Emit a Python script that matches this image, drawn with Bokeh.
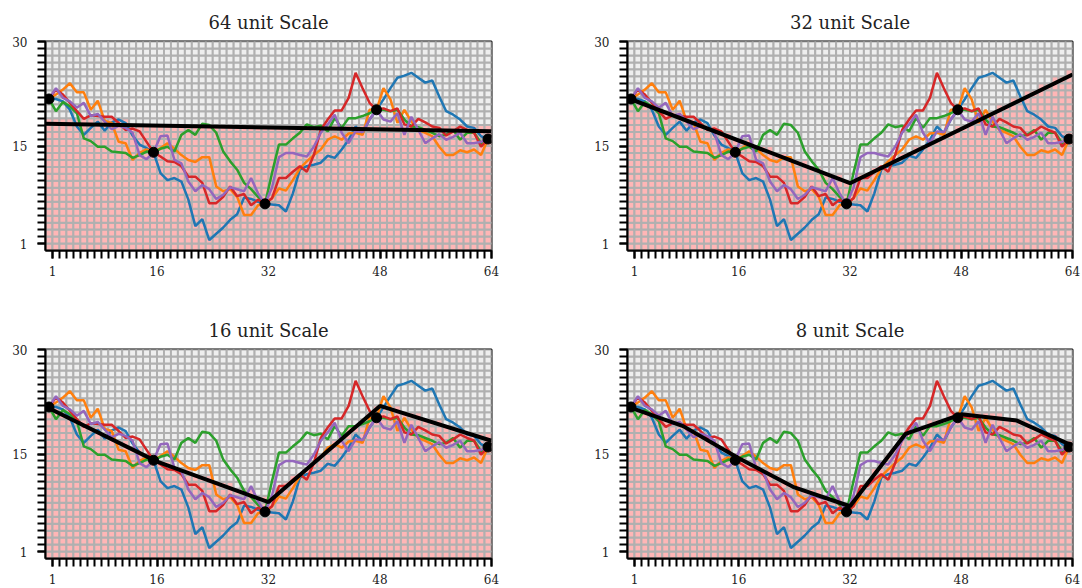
import numpy as np
from bokeh.plotting import figure
from bokeh.layouts import column, row
from bokeh.models import FixedTicker, Range1d
from bokeh.embed import file_html
from bokeh.resources import INLINE

# ---- data -------------------------------------------------------------
steps = list(range(1, 65))

blue = [21.75, 21.75, 21.4, 20.2, 17.8, 16.6, 17.6, 18.5, 17.2, 18.4,
        18.8, 18.3, 16.5, 15.2, 14.7, 14.1, 11.1, 10.1, 10.4, 9.9,
        7.3, 3.5, 4.5, 1.5, 2.4, 3.3, 4.4, 5.2, 7.6, 7.4,
        7.0, 6.7, 6.6, 6.5, 5.6, 8.2, 11.6, 12.1, 12.3, 12.6,
        13.6, 13.3, 14.5, 15.9, 17.8, 16.8, 18.8, 20.2, 21.7, 23.3,
        24.8, 25.1, 25.5, 24.8, 24.1, 24.4, 22.1, 20.0, 19.5, 18.8,
        17.8, 17.6, 16.4, 16.0]
orange = [21.75, 22.4, 23.1, 24.0, 22.7, 22.7, 20.2, 21.5, 18.6, 18.3,
          15.6, 15.4, 13.0, 14.0, 14.5, 14.1, 14.7, 15.4, 14.6, 13.7,
          13.0, 12.7, 13.4, 13.4, 9.2, 8.5, 8.8, 7.7, 5.1, 5.1,
          6.5, 6.7, 7.5, 8.9, 8.6, 10.1, 11.8, 12.8, 13.7, 14.5,
          15.9, 16.4, 15.9, 16.8, 16.9, 16.6, 20.2, 20.2, 23.3, 21.7,
          18.3, 20.2, 18.5, 17.3, 16.9, 16.4, 14.9, 13.7, 13.7, 14.4,
          14.1, 14.5, 13.7, 16.0]
green = [21.75, 20.0, 21.3, 20.7, 19.7, 16.1, 15.7, 14.9, 14.9, 14.2,
         14.1, 14.0, 13.3, 13.7, 14.2, 14.1, 14.6, 14.9, 14.2, 16.6,
         17.3, 16.6, 18.2, 18.0, 16.9, 14.2, 12.8, 11.6, 9.7, 8.8,
         7.7, 6.7, 11.1, 15.2, 15.2, 16.1, 16.9, 18.1, 17.7, 17.9,
         17.1, 19.0, 17.6, 19.0, 19.0, 19.3, 19.7, 20.2, 20.2, 20.0,
         20.2, 18.8, 17.8, 17.7, 17.3, 16.9, 16.4, 16.6, 17.3, 15.9,
         16.9, 16.9, 15.4, 16.0]
red = [21.75, 23.1, 22.4, 21.2, 20.0, 18.9, 19.4, 19.3, 19.2, 19.2,
       18.3, 17.3, 17.5, 17.1, 15.6, 14.1, 13.5, 12.8, 12.7, 12.1,
       10.6, 10.6, 9.7, 6.8, 6.8, 7.7, 9.2, 7.8, 8.1, 6.5,
       7.3, 6.7, 7.5, 10.4, 10.4, 11.3, 12.1, 11.3, 13.7, 17.3,
       18.8, 20.1, 20.1, 21.9, 25.5, 23.3, 21.2, 20.2, 20.4, 20.0,
       20.4, 18.1, 17.8, 18.9, 18.4, 17.8, 17.6, 16.5, 17.1, 17.8,
       17.3, 16.9, 14.9, 16.0]
purple = [21.75, 23.3, 21.9, 21.4, 20.5, 21.2, 19.3, 19.6, 18.5, 17.4,
          17.9, 17.6, 16.9, 13.7, 13.1, 14.1, 16.4, 16.5, 13.0, 12.5,
          9.9, 8.5, 9.4, 8.8, 7.4, 8.0, 9.1, 8.8, 8.5, 10.4,
          8.2, 6.7, 9.0, 13.4, 14.0, 14.0, 13.7, 13.5, 14.9, 16.9,
          18.1, 19.5, 16.9, 15.4, 17.1, 17.0, 18.8, 20.2, 18.8, 18.5,
          19.7, 16.6, 19.2, 17.3, 15.4, 16.1, 16.7, 15.9, 16.3, 16.9,
          15.4, 15.4, 15.6, 16.0]

series = [blue, orange, green, red, purple]
series_colors = ["#1f77b4", "#ff7f0e", "#2ca02c", "#d62728", "#9467bd"]

anchor_steps = [1, 16, 32, 48, 64]
anchor_values = [21.75, 14.1, 6.7, 20.2, 16.0]

# piecewise-linear trend per scale, one value per segment boundary
trend_values = {
    64: [18.2, 17.1],
    32: [21.9, 9.66, 25.25],
    16: [21.8, 13.9, 8.1, 21.9, 16.9],
    8: [21.8, 19.0, 14.4, 10.2, 7.5, 17.9, 20.7, 19.8, 16.2],
}

x_labeled_ticks = [1, 16, 32, 48, 64]
y_labeled_ticks = [1, 15, 30]
n_steps = 64
n_levels = 30

# ---- styling ----------------------------------------------------------
FONT = "DejaVu Serif"
CELL_ABOVE = "#eeeeee"
CELL_BELOW = "#ffb6b6"
CELL_EDGE = "#b0b0b0"


def make_panel(scale, width, height, border_right, border_bottom):
    p = figure(width=width, height=height, output_backend="svg",
               toolbar_location=None, title=f"{scale} unit Scale",
               x_range=Range1d(0, n_steps), y_range=Range1d(0, n_levels),
               min_border_left=45, min_border_right=border_right,
               min_border_top=41, min_border_bottom=border_bottom)
    p.background_fill_color = "white"
    p.border_fill_color = "white"
    p.outline_line_color = "black"
    p.outline_line_width = 2
    p.grid.visible = False

    p.title.text_font = FONT
    p.title.text_font_size = "18px"
    p.title.text_font_style = "normal"
    p.title.align = "center"
    p.title.text_color = "#222222"
    p.title.standoff = 18

    knots_x = np.linspace(0, n_steps, len(trend_values[scale]))
    knots_y = np.array(trend_values[scale])

    # unit cells, shaded below the trend line
    lefts, bottoms, fills = [], [], []
    for i in range(n_steps):
        level = np.interp(i + 0.5, knots_x, knots_y)
        for j in range(n_levels):
            lefts.append(i)
            bottoms.append(j)
            fills.append(CELL_BELOW if j < level else CELL_ABOVE)
    lefts = np.array(lefts)
    bottoms = np.array(bottoms)
    p.quad(left=lefts, right=lefts + 1, bottom=bottoms, top=bottoms + 1,
           fill_color=fills, line_color=CELL_EDGE, line_width=2)

    xs = np.array(steps) - 0.5
    for vals, col in zip(series, series_colors):
        p.line(xs, vals, line_color=col, line_width=2.5)

    p.line(knots_x, knots_y, line_color="black", line_width=4)
    p.scatter(np.array(anchor_steps) - 0.5, anchor_values, size=10,
              fill_color="black", line_color="black")

    for ax in (p.xaxis, p.yaxis):
        ax.axis_line_color = "black"
        ax.axis_line_width = 2
        ax.major_tick_line_color = "black"
        ax.major_tick_line_width = 2
        ax.minor_tick_line_color = "black"
        ax.minor_tick_line_width = 2
        ax.major_tick_out = 8
        ax.major_tick_in = 0
        ax.minor_tick_out = 8
        ax.minor_tick_in = 0
        ax.major_label_text_font = FONT
        ax.major_label_text_font_size = "12px"
        ax.major_label_text_color = "#222222"

    p.xaxis.ticker = FixedTicker(ticks=x_labeled_ticks, minor_ticks=steps)
    p.yaxis.ticker = FixedTicker(ticks=y_labeled_ticks,
                                 minor_ticks=list(range(1, n_levels + 1)))
    p.xaxis.major_label_standoff = 7
    p.yaxis.major_label_standoff = 10
    return p


p1 = make_panel(64, 582, 308, 91, 58)
p2 = make_panel(32, 500, 308, 10, 58)
p3 = make_panel(16, 582, 280, 91, 30)
p4 = make_panel(8, 500, 280, 10, 30)

layout = column(row(p1, p2), row(p3, p4))

with open("out.html", "w") as f:
    f.write(file_html(layout, INLINE))
